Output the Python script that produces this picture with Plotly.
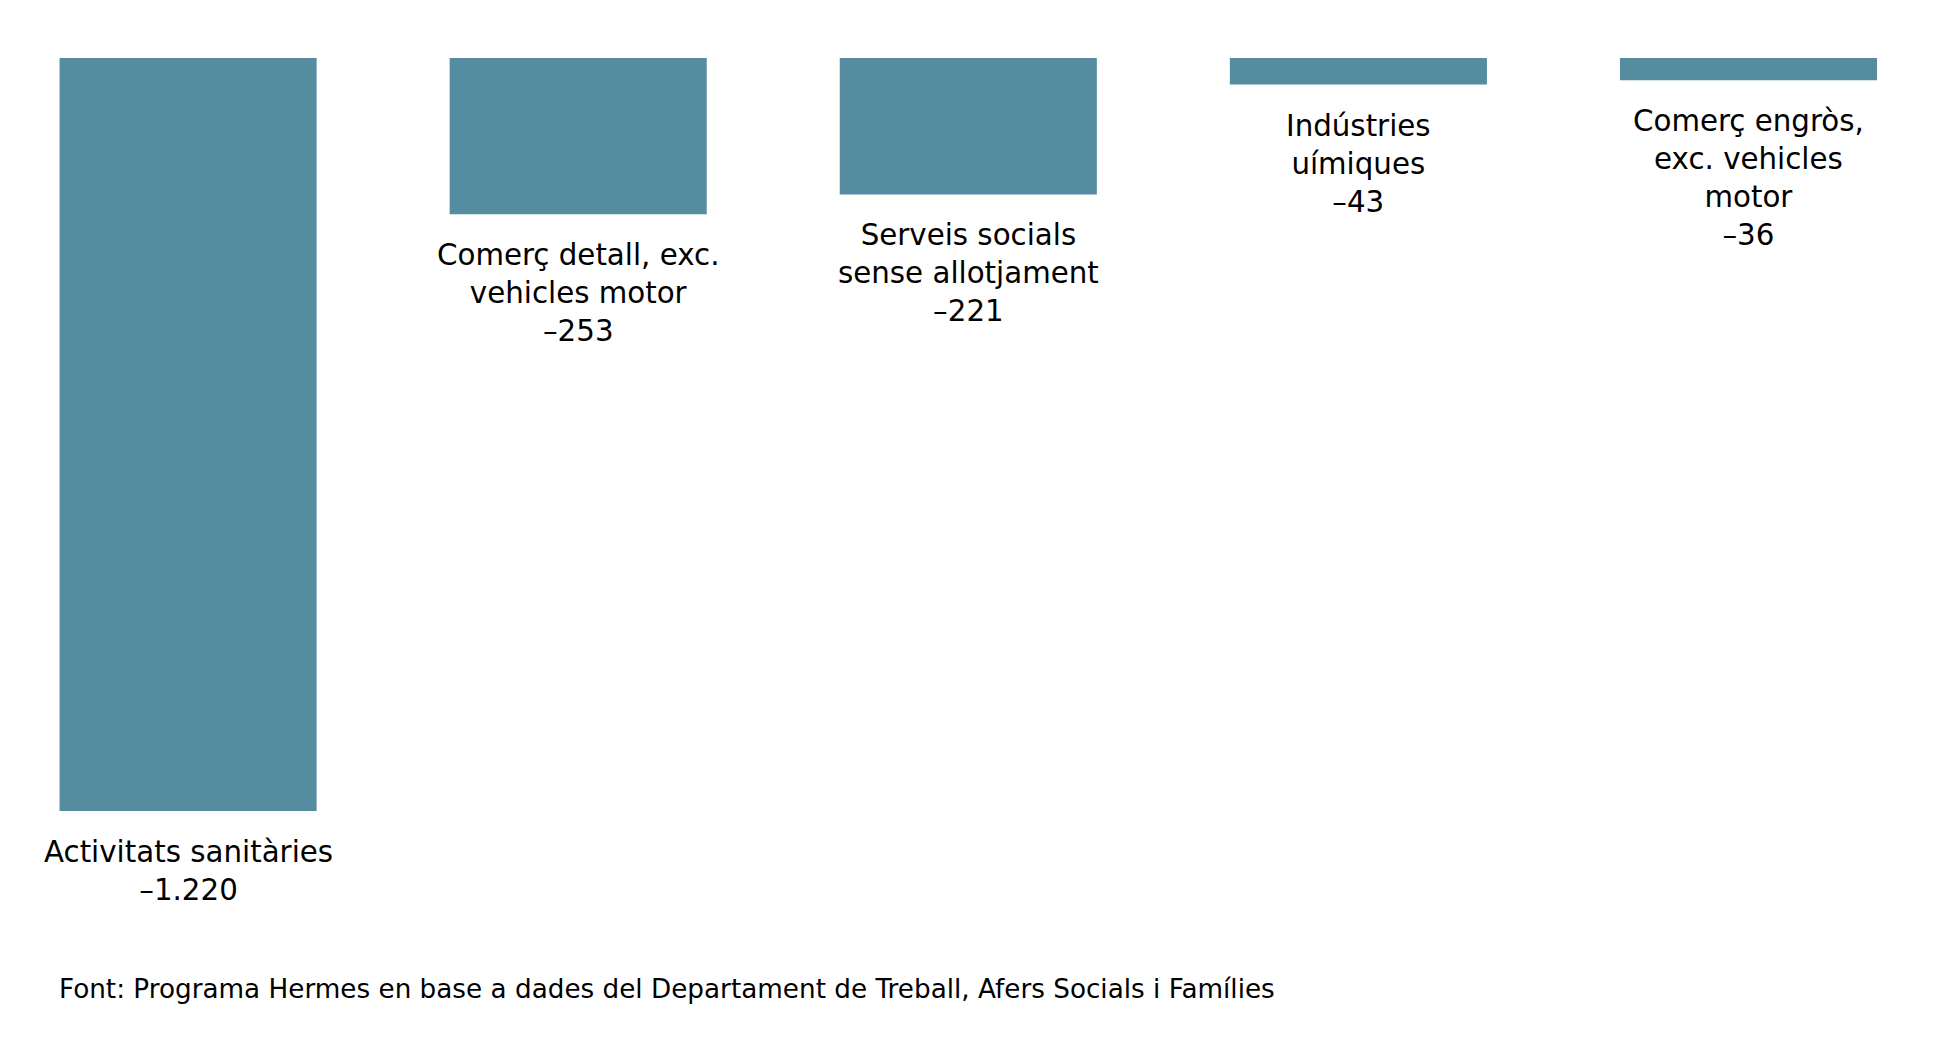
import plotly.graph_objects as go

# ── DATA ─────────────────────────────────────────────────────────────────
SECTORS = [
    'Activitats sanitàries',
    'Comerç detall, exc.<br>vehicles motor',
    'Serveis socials<br>sense allotjament',
    'Indústries<br>uímiques',
    'Comerç engròs,<br>exc. vehicles<br>motor',
]
VALUES = [-1220, -253, -221, -43, -36]
VALUE_LABELS = ['–1.220', '–253', '–221', '–43', '–36']

SOURCE = 'Font: Programa Hermes en base a dades del Departament de Treball, Afers Socials i Famílies'

BAR_COLOR = '#558CA0'
FONT = 'DejaVu Sans, Liberation Sans, Arial, sans-serif'

# page body has an 8px margin, so the figure is a little smaller than the window
W, H = 1929, 1055
TOP, BOTTOM = 50, 0
PX_PER_UNIT = 0.6172
SLOT = 390.1
FIRST_CENTER = 180.1

x = list(range(len(SECTORS)))

fig = go.Figure(go.Bar(
    x=x,
    y=VALUES,
    marker=dict(color=BAR_COLOR, line=dict(width=0)),
    hoverinfo='skip',
))

# labels under each bar
for i, (name, val, lab) in enumerate(zip(SECTORS, VALUES, VALUE_LABELS)):
    fig.add_annotation(
        x=i, y=val, xref='x', yref='y',
        text=f'{name}<br>{lab}',
        showarrow=False,
        xanchor='center', yanchor='top',
        yshift=-22,
        align='center',
        font=dict(family=FONT, size=29.3, color='#000000'),
    )

plot_h = H - TOP - BOTTOM
fig.add_annotation(
    x=49 / W, y=(H - BOTTOM - 964) / plot_h, xref='paper', yref='paper',
    text=SOURCE,
    showarrow=False,
    xanchor='left', yanchor='top',
    align='left',
    font=dict(family=FONT, size=26.25, color='#000000'),
)

fig.update_layout(
    width=W, height=H,
    margin=dict(l=0, r=0, t=TOP, b=BOTTOM),
    paper_bgcolor='white',
    plot_bgcolor='white',
    bargap=0.341,
    showlegend=False,
    xaxis=dict(range=[-FIRST_CENTER / SLOT, (W - FIRST_CENTER) / SLOT],
               visible=False, fixedrange=True),
    yaxis=dict(range=[-plot_h / PX_PER_UNIT, 0], visible=False, fixedrange=True),
)

fig.write_html('out.html')
